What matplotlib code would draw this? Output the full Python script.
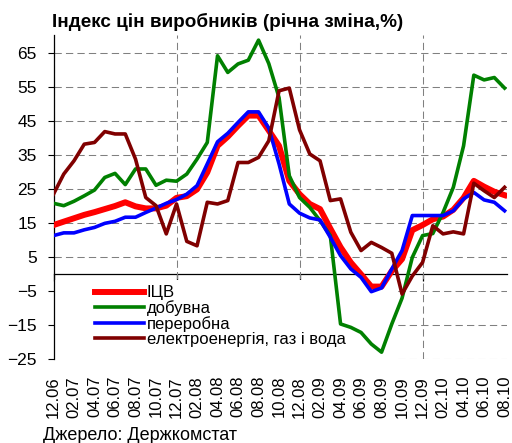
import numpy as np
import matplotlib.pyplot as plt
from matplotlib.ticker import FixedLocator
from matplotlib.patches import Rectangle

plt.rcParams['font.family'] = ['Liberation Sans', 'DejaVu Sans']

# monthly, 12.06 .. 08.10, % y/y
tick_labels = ['12.06', '02.07', '04.07', '06.07', '08.07', '10.07',
               '12.07', '02.08', '04.08', '06.08', '08.08', '10.08',
               '12.08', '02.09', '04.09', '06.09', '08.09', '10.09',
               '12.09', '02.10', '04.10', '06.10', '08.10']

icv = [14.5, 15.5, 16.5, 17.5, 18.3, 19.2, 20.1, 21.2, 20.0, 19.4, 19.4, 20.2,
       22.5, 23.0, 25.0, 30.0, 37.8, 40.5, 43.7, 46.7, 46.7, 42.3, 37.8, 27.5,
       23.6, 20.7, 19.2, 13.5, 8.0, 3.5, 0.0, -3.6, -3.6, 1.0, 4.5, 13.0,
       14.5, 16.2, 17.0, 19.0, 22.5, 27.5, 25.8, 24.3, 23.3]
mining = [20.9, 20.2, 21.5, 23.1, 24.8, 28.5, 29.7, 26.4, 31.0, 31.0, 26.2, 27.7,
          27.4, 29.5, 33.9, 38.8, 64.3, 59.4, 61.9, 63.0, 68.9, 62.0, 52.0, 29.0,
          22.6, 19.7, 15.8, 11.4, -14.6, -15.6, -17.1, -20.5, -22.9, -14.6, -7.0, 5.0,
          11.4, 12.0, 18.2, 25.6, 37.8, 58.6, 57.2, 57.9, 54.8]
manuf = [11.4, 12.2, 12.2, 13.1, 13.8, 15.0, 15.6, 16.8, 16.8, 18.2, 19.5, 20.9,
         22.0, 23.6, 26.1, 32.5, 39.0, 41.5, 44.7, 47.8, 47.8, 43.0, 32.5, 20.7,
         18.0, 16.6, 16.0, 10.9, 5.5, 1.6, -0.9, -5.1, -4.0, 1.6, 7.0, 17.3,
         17.3, 17.3, 17.3, 18.7, 22.2, 24.1, 21.9, 21.2, 18.7]
utilities = [23.6, 29.5, 33.4, 38.3, 38.8, 42.0, 41.3, 41.3, 33.9, 22.6, 20.2, 11.9,
             20.7, 9.7, 8.4, 21.2, 20.7, 21.7, 32.9, 32.9, 34.4, 39.3, 54.0, 54.8,
             42.5, 35.4, 33.4, 21.7, 22.2, 12.4, 7.0, 9.4, 7.9, 6.2, -5.8, -0.5,
             3.5, 14.3, 11.9, 12.5, 11.9, 26.8, 24.6, 22.6, 25.6]

months = np.arange(len(icv))
ymin, ymax = -25, 70.4

fig = plt.figure(figsize=(5.12, 4.43), dpi=100)
ax = fig.add_axes([0.1045, 0.1889, 0.885, 0.732])

ax.plot(months, icv, color='#ff0000', lw=4.3, label='ІЦВ', zorder=3)
ax.plot(months, mining, color='#008000', lw=2.6, label='добувна', zorder=4)
ax.plot(months, manuf, color='#0000ff', lw=2.6, label='переробна', zorder=5)
ax.plot(months, utilities, color='#800000', lw=2.6,
        label='електроенергія, газ і вода', zorder=6)

ax.set_xlim(0, 44.2)
ax.set_ylim(ymin, ymax)

# x: gridlines each 12 months, labels every 2 months
ax.xaxis.remove_overlapping_locs = False
ax.xaxis.set_major_locator(FixedLocator([0, 12, 24, 36]))
ax.xaxis.set_minor_locator(FixedLocator(months[::2]))
ax.set_xticklabels([], minor=False)
ax.set_xticklabels(tick_labels, minor=True, rotation=90, fontsize=12)
ax.tick_params(axis='x', which='both', length=0, pad=12)

ax.set_yticks(np.arange(-25, 66, 10))
ax.tick_params(axis='y', length=4, labelsize=12.5, pad=8)

ax.grid(True, which='major', color='#808080', lw=0.75, linestyle=(0, (7, 4)))

for s in ['top', 'right', 'bottom']:
    ax.spines[s].set_visible(False)
ax.spines['left'].set_linewidth(0.9)

# zero line with yearly tick marks
zero = ax.secondary_xaxis((0 - ymin) / (ymax - ymin))
zero.set_xticks([0, 12, 24, 36])
zero.set_xticklabels([])
zero.tick_params(length=5, width=0.9, direction='out')
zero.spines['bottom'].set_linewidth(0.9)

# legend area hides the gridlines behind it
ax.add_patch(Rectangle((0.003, -0.01), 0.757, 0.255, transform=ax.transAxes,
                       facecolor='white', edgecolor='none', zorder=2.5))
leg = ax.legend(loc='upper left', bbox_to_anchor=(0.0916, 0.228), frameon=False,
                fontsize=12, handlelength=2.95, handletextpad=0.15,
                labelspacing=0.0, borderpad=0, borderaxespad=0)
leg.set_zorder(2.6)

fig.text(0.102, 0.950, 'Індекс цін виробників (річна зміна,%)',
         fontsize=13.6, fontweight='bold', va='center', ha='left')
fig.text(0.084, 0.018, 'Джерело: Держкомстат', fontsize=13,
         va='center', ha='left')

fig.savefig('out.png', dpi=100)
